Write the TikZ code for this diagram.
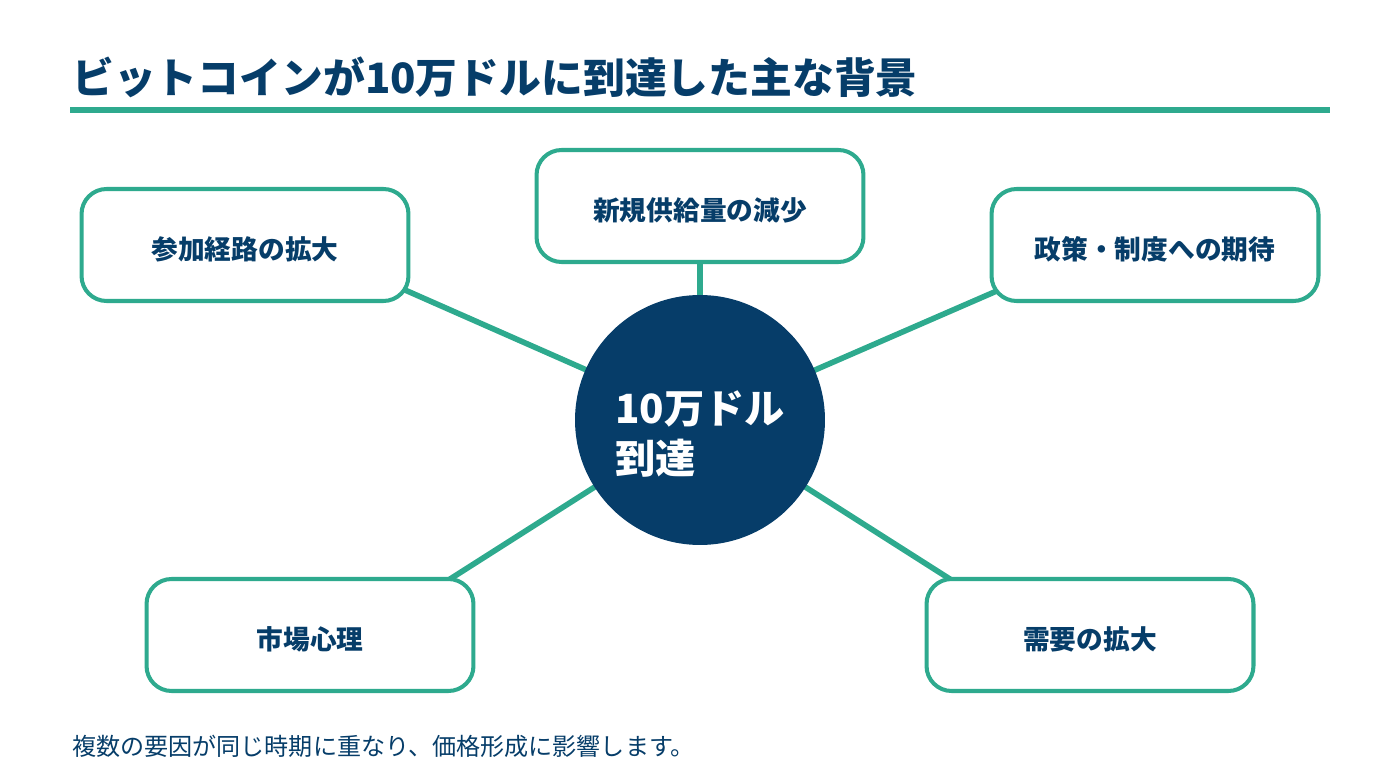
\documentclass[tikz,border=0pt]{standalone}
\usepackage{fontspec}
\setmainfont{Noto Sans CJK JP}
\definecolor{navy}{HTML}{063D69}
\definecolor{teal}{HTML}{2EAA8E}

\begin{document}
\begin{tikzpicture}[x=0.02cm, y=-0.02cm,
    factor/.style={draw=teal, line width=2.3pt, fill=white, rounded corners=0.5cm,
        minimum width=6.54cm, minimum height=2.24cm, text height=19pt, text depth=3pt,
        text=navy, font=\fontsize{15.2}{18}\selectfont\bfseries},
    spoke/.style={draw=teal, line width=3.2pt}]
    \useasboundingbox (0,0) rectangle (1400,780);

    % title
    \node[anchor=base west, text=navy, font=\fontsize{23.8}{28}\selectfont\bfseries, inner sep=0pt] (title) at (72,94) {ビットコインが10万ドルに到達した主な背景};
    \draw[teal, line width=3.2pt] (70,110) -- (1330,110);

    % center
    \coordinate (C) at (700,420);
    \coordinate (A) at (245,245);
    \coordinate (B) at (700,206);
    \coordinate (D) at (1155,245);
    \coordinate (E) at (310,635);
    \coordinate (F) at (1090,635);

    % ends of the spokes
    \coordinate (a) at (380,279);
    \coordinate (b) at (700,250);
    \coordinate (d) at (1022,280);
    \coordinate (e) at (425,595);
    \coordinate (f) at (975,595);

    \path[spoke] (C) -- (a) (C) -- (b) (C) -- (d) (C) -- (e) (C) -- (f);

    \node[circle, fill=navy, minimum size=5cm, inner sep=0pt] (hub) at (C) {};
    \node[text=white, align=left, font=\fontsize{22.9}{29}\selectfont\bfseries, inner sep=0pt] (hubtext) at (700,434) {10万ドル\\到達};

    \node[factor] (route) at (A) {参加経路の拡大};
    \node[factor] (supply) at (B) {新規供給量の減少};
    \node[factor] (policy) at (D) {政策・制度への期待};
    \node[factor] (mood) at (E) {市場心理};
    \node[factor] (demand) at (F) {需要の拡大};

    % footnote
    \node[anchor=base west, text=navy, font=\fontsize{13.7}{16}\selectfont, inner sep=0pt] (note) at (72,755) {複数の要因が同じ時期に重なり、価格形成に影響します。};
\end{tikzpicture}
\end{document}
